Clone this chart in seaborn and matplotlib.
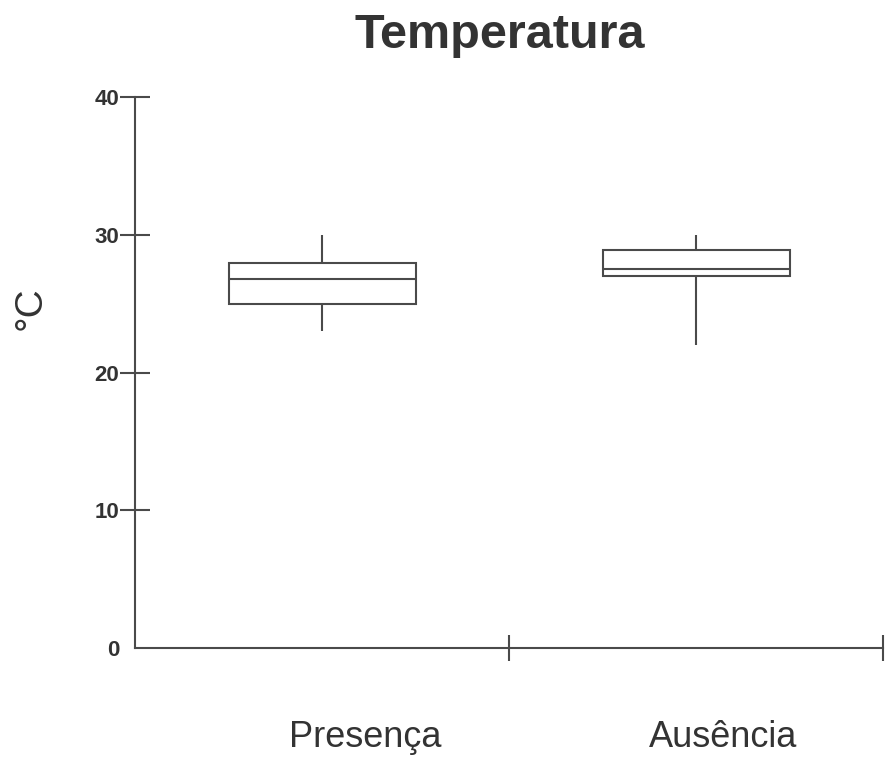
import matplotlib
matplotlib.use("Agg")
import matplotlib.pyplot as plt
import matplotlib.transforms as mtransforms
import seaborn as sns
import pandas as pd

# Data
categories = ["Presença", "Ausência"]
presenca_values = [23.0, 25.0, 26.8, 28.0, 30.0]
ausencia_values = [22.0, 27.0, 27.5, 28.9, 30.0]
y_ticks = [0, 10, 20, 30, 40]
title = "Temperatura"
y_label = "°C"

plt.rcParams["font.family"] = ["Liberation Sans", "DejaVu Sans"]

df = pd.DataFrame({
    "grupo": [categories[0]] * len(presenca_values) + [categories[1]] * len(ausencia_values),
    "valor": presenca_values + ausencia_values,
})

line_c = "#4a4a4a"
text_c = "#333333"

fig = plt.figure(figsize=(8.85, 7.6), dpi=100)
ax = fig.add_axes([135 / 885, (760 - 648) / 760, (883 - 135) / 885, (648 - 97.3) / 760])

sns.boxplot(data=df, x="grupo", y="valor", order=categories, ax=ax,
            color="white", linecolor=line_c, linewidth=1.5, width=0.5,
            whis=(0, 100), showcaps=False, showfliers=False)

ax.set_xlim(-0.5, 1.5)
ax.set_ylim(0, 40)
ax.set_xlabel("")
ax.set_ylabel("")

for s in ["top", "right"]:
    ax.spines[s].set_visible(False)
for s in ["left", "bottom"]:
    ax.spines[s].set_color(line_c)
    ax.spines[s].set_linewidth(1.5)

# y ticks
ax.set_yticks(y_ticks)
ax.set_yticklabels([str(t) for t in y_ticks])
ax.tick_params(axis="y", direction="inout", length=21, width=1.5, color=line_c,
               labelsize=16, labelcolor=text_c, pad=1)
for lab in ax.get_yticklabels():
    lab.set_fontweight("bold")
ax.yaxis.get_major_ticks()[0].tick1line.set_visible(False)

# x ticks: labels at categories (no tick marks), separators as minor ticks
ax.set_xticks([0, 1])
ax.set_xticklabels(categories)
ax.tick_params(axis="x", which="major", length=0, labelsize=26, labelcolor=text_c, pad=52)
ax.set_xticks([0.5, 1.5], minor=True)
ax.tick_params(axis="x", which="minor", direction="inout", length=19, width=1.5, color=line_c)
offsets = [0.43, 0.27]
for lab, dx in zip(ax.get_xticklabels(), offsets):
    lab.set_transform(lab.get_transform() + mtransforms.ScaledTranslation(dx, 0, fig.dpi_scale_trans))

fig.text(500 / 885, 1 - 48 / 760, title, ha="center", va="baseline",
         fontsize=35, fontweight="bold", color=text_c)
fig.text(31 / 885, 1 - 308 / 760, y_label, ha="center", va="center",
         rotation=90, fontsize=28, color=text_c)

fig.savefig("out.png", dpi=100, facecolor="white")
